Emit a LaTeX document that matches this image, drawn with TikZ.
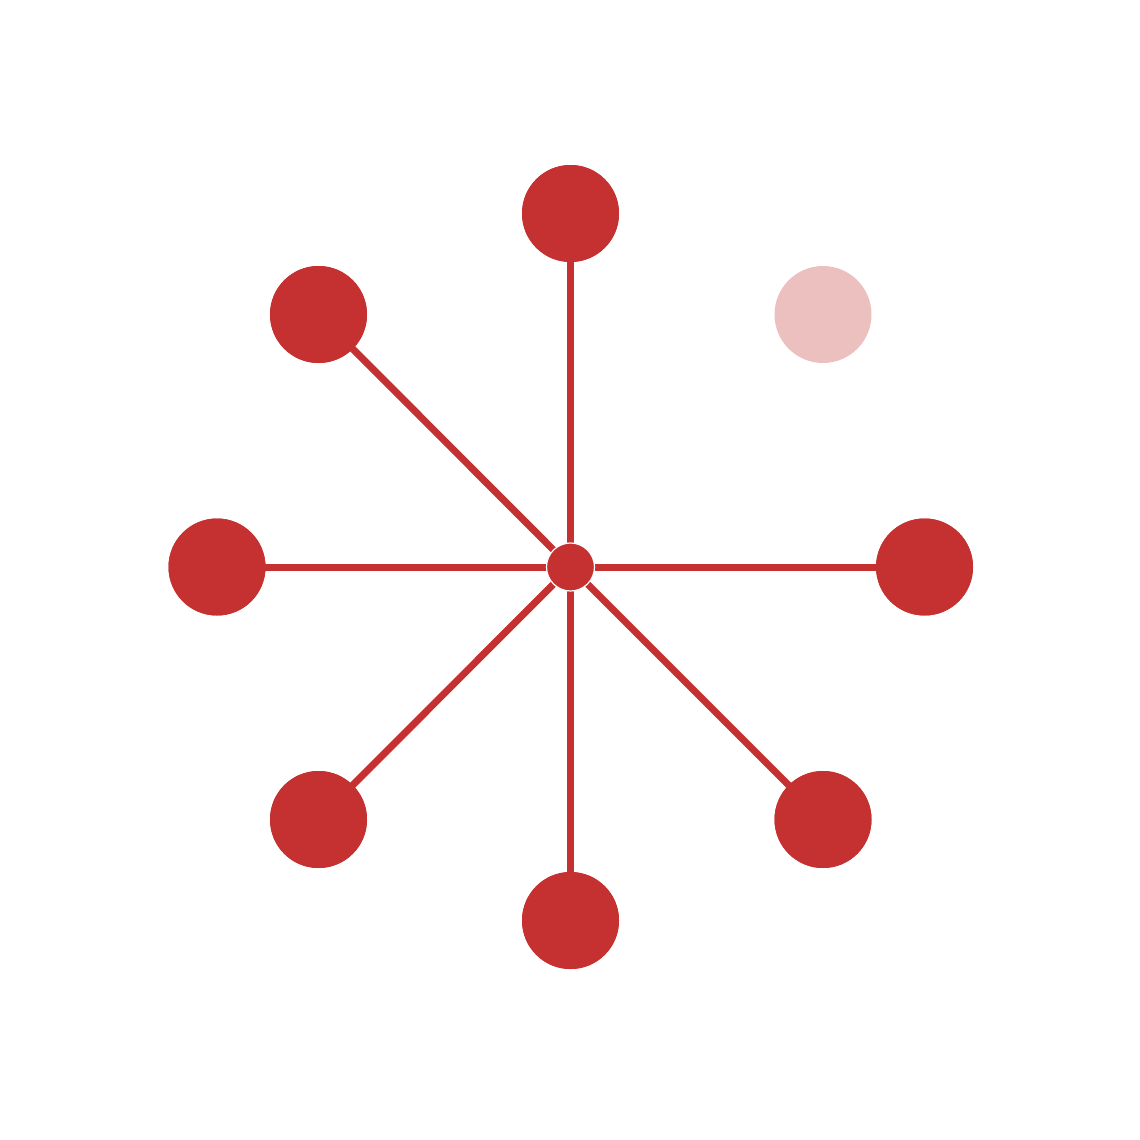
\documentclass[tikz,border=0pt]{standalone}
\definecolor{hubred}{HTML}{C53030}
\tikzset{
  leaf/.style={circle, fill=hubred, minimum size=97pt, inner sep=0pt},
  faded/.style={circle, fill=hubred, fill opacity=0.3, minimum size=97pt, inner sep=0pt},
  hub/.style={circle, fill=hubred, draw=white, line width=1.2pt, minimum size=48pt, inner sep=0pt},
  spoke/.style={draw=hubred, line width=7pt}
}
\begin{document}
\begin{tikzpicture}[x=1pt,y=-1pt]
\useasboundingbox (0,0) rectangle (1140,1140);
\coordinate (c) at (570.5,567);
\node[leaf] (n) at (570.5,213.5) {};
\node[leaf] (nw) at (318.5,314.5) {};
\node[leaf] (w) at (217,567) {};
\node[leaf] (e) at (924.5,567) {};
\node[leaf] (sw) at (318.5,819.5) {};
\node[leaf] (s) at (570.5,920.5) {};
\node[leaf] (se) at (823,819.5) {};
\node[faded] (ne) at (823,314.5) {};
\foreach \t in {n,nw,w,e,sw,s,se}{
  \path[spoke] (c) -- (\t.center);
}
\foreach \t in {n,nw,w,e,sw,s,se}{
  \node[leaf] at (\t) {};
}
\node[hub] (h) at (c) {};
\end{tikzpicture}
\end{document}
